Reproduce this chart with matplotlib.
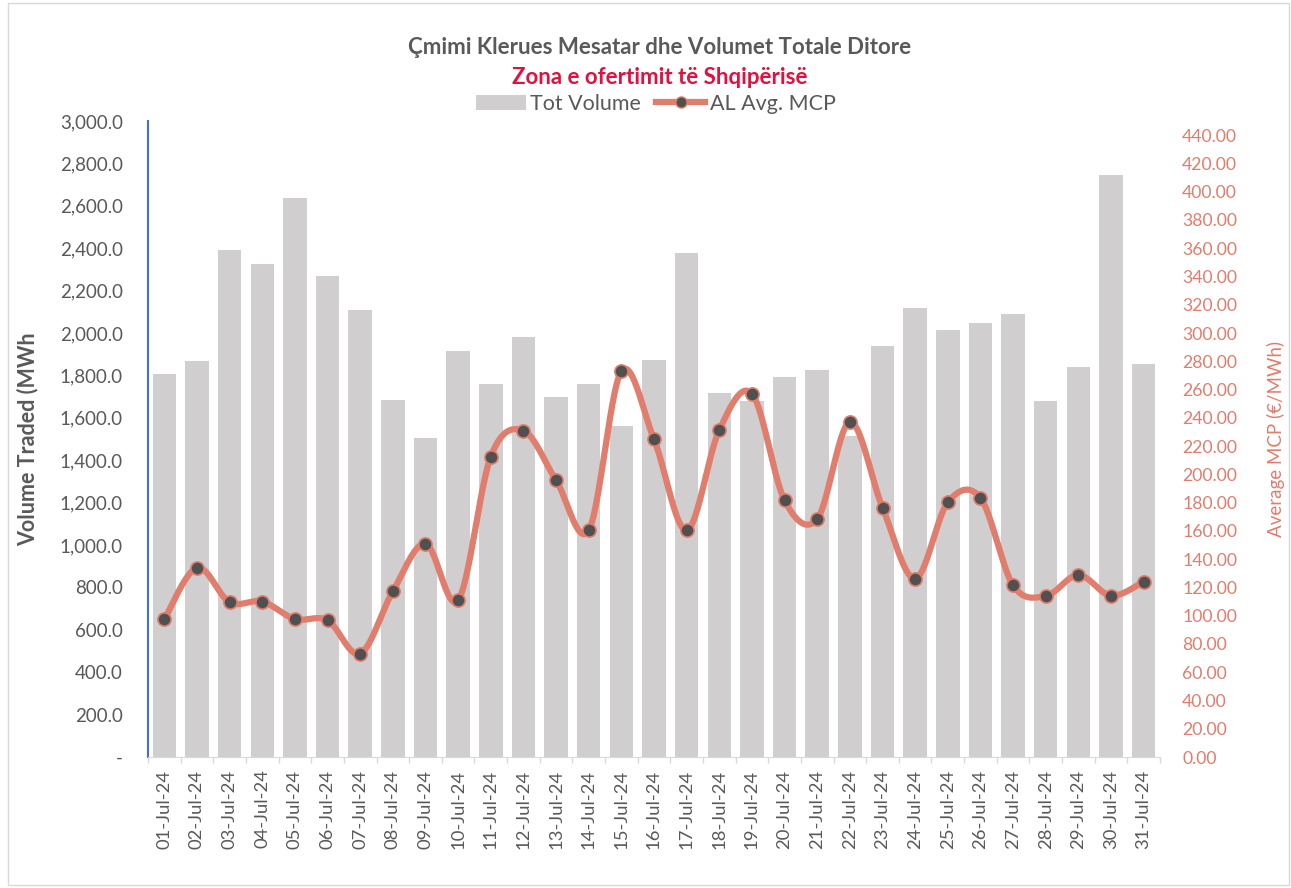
import numpy as np
import matplotlib
matplotlib.use('Agg')
import matplotlib.pyplot as plt
from matplotlib.patches import Patch, Rectangle
from matplotlib.lines import Line2D
from matplotlib.ticker import FuncFormatter, FixedLocator

plt.rcParams['font.family'] = ['Lato', 'DejaVu Sans']

# data
days = ['%02d-Jul-24' % d for d in range(1, 32)]
tot_volume = [1807, 1869, 2392, 2325, 2637, 2269, 2108, 1685, 1505, 1914,
              1758, 1983, 1697, 1761, 1561, 1873, 2377, 1717, 1679, 1791,
              1824, 1512, 1939, 2116, 2013, 2046, 2090, 1681, 1838, 2745, 1854]
avg_mcp = [97.4, 134.0, 109.5, 110.0, 97.6, 96.7, 73.1, 117.2, 150.9, 110.9,
           212.5, 230.9, 195.8, 160.4, 272.9, 224.8, 160.4, 231.4, 257.1, 181.6,
           168.4, 237.0, 176.4, 126.2, 180.2, 183.3, 121.5, 113.9, 128.8, 114.1, 124.0]

grey_txt = '#595959'
bar_col = '#D0CECE'
line_col = '#E07D6D'
red_col = '#E0103F'


def smooth(xs, ys, n=30):
    # catmull-rom style smoothing, like the excel "smoothed line"
    xs = np.asarray(xs, float)
    ys = np.asarray(ys, float)
    px = np.concatenate([[xs[0]], xs, [xs[-1]]])
    py = np.concatenate([[ys[0]], ys, [ys[-1]]])
    outx, outy = [], []
    t = np.linspace(0, 1, n)
    for i in range(1, len(px) - 2):
        x0, x1, x2, x3 = px[i-1:i+3]
        y0, y1, y2, y3 = py[i-1:i+3]
        c1x, c1y = x1 + (x2 - x0) / 6, y1 + (y2 - y0) / 6
        c2x, c2y = x2 - (x3 - x1) / 6, y2 - (y3 - y1) / 6
        bx = (1-t)**3*x1 + 3*(1-t)**2*t*c1x + 3*(1-t)*t**2*c2x + t**3*x2
        by = (1-t)**3*y1 + 3*(1-t)**2*t*c1y + 3*(1-t)*t**2*c2y + t**3*y2
        outx.extend(bx)
        outy.extend(by)
    return np.array(outx), np.array(outy)


fig = plt.figure(figsize=(12.91, 8.88), dpi=100)
fig.patches.append(Rectangle((8/1291, 3/888), 1281/1291, 882/888, transform=fig.transFigure,
                             fill=False, edgecolor='#D9D9D9', linewidth=1))

ax = fig.add_axes([148/1291, 1-757/888, 1012/1291, 636/888])
x = np.arange(len(days))
ax.bar(x, tot_volume, width=0.72, color=bar_col, zorder=2)
ax.set_xlim(-0.5, len(days) - 0.5)
ax.set_ylim(0, 3000)
ax.set_yticks(np.arange(0, 3001, 200))
ax.yaxis.set_major_formatter(FuncFormatter(lambda v, p: '-' if v == 0 else '{:,.1f}'.format(v)))
ax.set_xticks(x)
ax.set_xticklabels(days, rotation=90)
ax.xaxis.set_minor_locator(FixedLocator(np.arange(-0.5, len(days), 1)))
ax.tick_params(axis='x', which='major', length=0, pad=9, labelsize=13.3, labelcolor=grey_txt)
ax.tick_params(axis='x', which='minor', length=4, color='#D9D9D9', width=1)
ax.tick_params(axis='y', length=0, pad=18, labelsize=13.5, labelcolor=grey_txt)
for s in ['top', 'right']:
    ax.spines[s].set_visible(False)
ax.spines['left'].set_color('#4472C4')
ax.spines['left'].set_linewidth(1.5)
ax.spines['bottom'].set_color('#D9D9D9')
ax.set_ylabel('Volume Traded (MWh', fontsize=15.5, fontweight='bold', color=grey_txt)
ax.yaxis.set_label_coords(-0.108, 0.5)

ax2 = ax.twinx()
ax2.set_ylim(0, 450)
ax2.set_yticks(np.arange(0, 441, 20))
ax2.yaxis.set_major_formatter(FuncFormatter(lambda v, p: '{:.2f}'.format(v)))
ax2.tick_params(axis='y', length=0, pad=16, labelsize=12.7, labelcolor=line_col)
for s in ['top', 'right', 'left', 'bottom']:
    ax2.spines[s].set_visible(False)
sx, sy = smooth(x, avg_mcp)
ax2.plot(sx, sy, color=line_col, linewidth=4.5, solid_capstyle='round', zorder=3)
ax2.plot(x, avg_mcp, linestyle='none', marker='o', markersize=9.5,
         markerfacecolor='#505050', markeredgecolor=line_col, markeredgewidth=1.2, zorder=4)
ax2.set_ylabel('Average MCP (€/MWh)', fontsize=13.5, color=line_col)
ax2.yaxis.set_label_coords(1.106, 0.5)

fig.text(0.511, 1-47/888, 'Çmimi Klerues Mesatar dhe Volumet Totale Ditore', ha='center', va='center',
         fontsize=16, fontweight='bold', color=grey_txt)
fig.text(0.511, 1-77/888, 'Zona e ofertimit të Shqipërisë', ha='center', va='center',
         fontsize=16, fontweight='bold', color=red_col)

handles = [Patch(facecolor=bar_col, edgecolor='none'),
           Line2D([0], [0], color=line_col, linewidth=4.5, marker='o', markersize=8,
                  markerfacecolor='#505050', markeredgecolor=line_col)]
fig.legend(handles, ['Tot Volume', 'AL Avg. MCP'], loc='center', bbox_to_anchor=(0.508, 1-104/888),
           ncol=2, frameon=False, fontsize=15.5, labelcolor=grey_txt, handlelength=2.3,
           handletextpad=0.2, columnspacing=0.7)

fig.savefig('out.png', dpi=100)
